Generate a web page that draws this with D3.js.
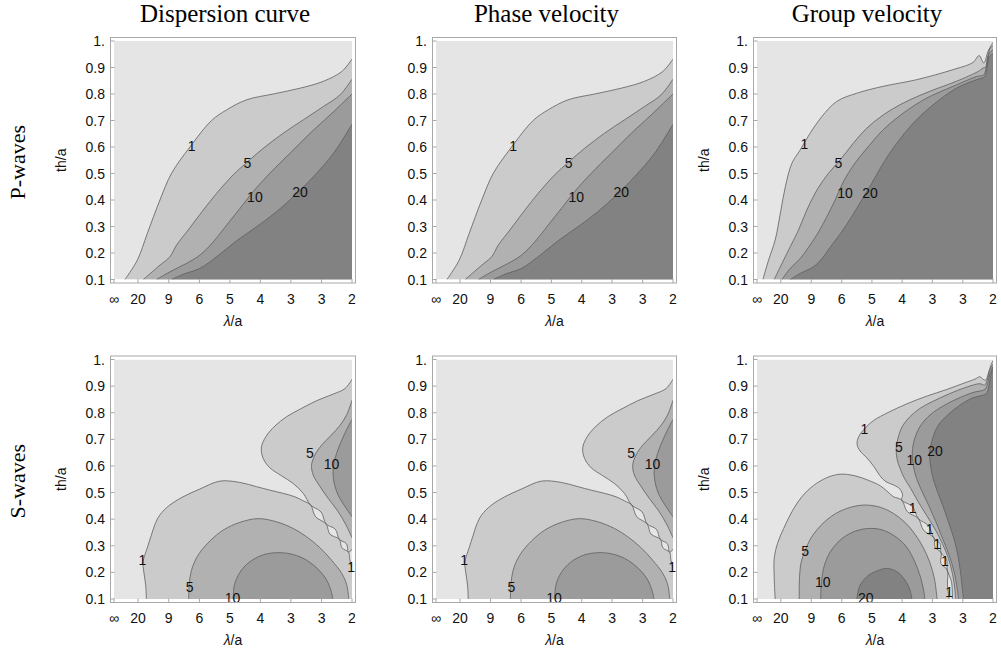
<!DOCTYPE html>
<html>
<head>
<meta charset="utf-8">
<script src="https://cdnjs.cloudflare.com/ajax/libs/d3/7.8.5/d3.min.js"></script>
<style>
  body { margin: 0; background: #fff; }
  svg { display: block; }
</style>
</head>
<body>
<svg id="chart" width="1001" height="655"></svg>
<script>
// ---- data ---------------------------------------------------------------
// x is the normalised wavenumber (0 = infinite wavelength, 1 = lambda/a 2),
// y is th/a. Every contour is a list of [x, th] points.

var columnTitles = ["Dispersion curve", "Phase velocity", "Group velocity"];
var rowTitles = ["P-waves", "S-waves"];

var xTickValues = [0, 0.101, 0.230, 0.359, 0.487, 0.615, 0.743, 0.872, 1.0];
var xTickLabels = ["\u221e", "20", "9", "6", "5", "4", "3", "3", "2"];
var yTickValues = [0.1, 0.2, 0.3, 0.4, 0.5, 0.6, 0.7, 0.8, 0.9, 1.0];
var yTickLabels = ["0.1", "0.2", "0.3", "0.4", "0.5", "0.6", "0.7", "0.8", "0.9", "1."];

var contourLevels = [1, 5, 10, 20];

// P-waves, dispersion curve (the phase velocity panel shows the same field)
var pDispersion1 = [[0.046,0.100],[0.098,0.173],[0.140,0.274],[0.193,0.400],[0.242,0.501],[0.319,0.600],[0.410,0.700],[0.473,0.740],[0.557,0.778],[0.669,0.800],[0.782,0.822],[0.880,0.848],[0.957,0.885],[1.0,0.932]];
var pDispersion5 = [[0.123,0.100],[0.193,0.154],[0.235,0.186],[0.263,0.230],[0.312,0.287],[0.375,0.362],[0.431,0.425],[0.501,0.495],[0.557,0.541],[0.627,0.595],[0.711,0.652],[0.796,0.703],[0.880,0.753],[0.950,0.797],[1.0,0.856]];
var pDispersion10 = [[0.179,0.100],[0.235,0.129],[0.305,0.161],[0.361,0.192],[0.417,0.242],[0.473,0.305],[0.529,0.368],[0.585,0.432],[0.655,0.501],[0.739,0.576],[0.824,0.652],[0.908,0.721],[1.0,0.800]];
var pDispersion20 = [[0.242,0.100],[0.291,0.120],[0.361,0.142],[0.431,0.186],[0.515,0.246],[0.599,0.299],[0.683,0.356],[0.754,0.413],[0.838,0.488],[0.922,0.576],[1.0,0.686]];
var pDispersionLabels = [[0.326,0.604,"1"],[0.560,0.539,"5"],[0.592,0.413,"10"],[0.782,0.432,"20"]];

// P-waves, group velocity
var pGroup1 = [[0.025,0.100],[0.049,0.173],[0.077,0.249],[0.099,0.350],[0.120,0.450],[0.148,0.539],[0.183,0.589],[0.225,0.652],[0.275,0.715],[0.338,0.772],[0.423,0.803],[0.535,0.829],[0.676,0.854],[0.831,0.892],[0.915,0.919],[0.941,0.945],[0.961,0.917],[0.979,0.961],[1.0,0.995]];
var pGroup5 = [[0.073,0.100],[0.106,0.161],[0.141,0.224],[0.176,0.287],[0.211,0.362],[0.254,0.438],[0.303,0.501],[0.352,0.551],[0.408,0.614],[0.465,0.671],[0.535,0.721],[0.620,0.766],[0.732,0.810],[0.845,0.848],[0.937,0.885],[0.958,0.898],[0.972,0.904],[0.986,0.970],[1.0,0.982]];
var pGroup10 = [[0.106,0.100],[0.141,0.142],[0.183,0.179],[0.225,0.230],[0.261,0.280],[0.296,0.337],[0.331,0.400],[0.366,0.469],[0.415,0.539],[0.472,0.602],[0.535,0.665],[0.620,0.728],[0.718,0.784],[0.831,0.829],[0.930,0.866],[0.961,0.873],[0.980,0.948],[1.0,0.967]];
var pGroup20 = [[0.141,0.100],[0.183,0.123],[0.239,0.148],[0.275,0.179],[0.317,0.230],[0.359,0.280],[0.401,0.337],[0.444,0.400],[0.486,0.463],[0.535,0.539],[0.592,0.614],[0.662,0.690],[0.746,0.759],[0.845,0.822],[0.930,0.854],[0.965,0.866],[0.983,0.940],[1.0,0.952]];
var pGroupLabels = [[0.201,0.612,"1"],[0.345,0.539,"5"],[0.373,0.425,"10"],[0.479,0.425,"20"]];

// S-waves, dispersion curve (phase velocity panel is the same field)
var sDispersionLower1 = [[0.136,0.100],[0.133,0.153],[0.125,0.203],[0.122,0.240],[0.139,0.290],[0.157,0.340],[0.171,0.378],[0.192,0.415],[0.234,0.453],[0.290,0.484],[0.360,0.513],[0.445,0.543],[0.529,0.538],[0.599,0.522],[0.655,0.509],[0.711,0.497],[0.760,0.484],[0.795,0.469],[0.826,0.453],[0.847,0.409],[0.891,0.382],[0.907,0.344],[0.947,0.324],[0.957,0.293],[0.986,0.275],[0.990,0.253],[0.994,0.234],[1.0,0.218]];
var sDispersionUpper1 = [[1.0,0.926],[0.971,0.891],[0.921,0.870],[0.851,0.845],[0.781,0.813],[0.725,0.785],[0.676,0.750],[0.638,0.710],[0.619,0.668],[0.627,0.628],[0.655,0.593],[0.704,0.563],[0.753,0.534],[0.795,0.497],[0.826,0.453],[0.870,0.427],[0.891,0.382],[0.930,0.362],[0.947,0.324],[0.976,0.308],[0.986,0.275],[1.0,0.288]];
var sDispersionLower5 = [[0.314,0.100],[0.317,0.165],[0.330,0.221],[0.358,0.271],[0.403,0.318],[0.459,0.359],[0.529,0.388],[0.606,0.402],[0.683,0.390],[0.753,0.365],[0.809,0.334],[0.865,0.293],[0.914,0.246],[0.957,0.196],[0.978,0.153],[0.986,0.100]];
var sDispersionUpper5 = [[1.0,0.847],[0.978,0.793],[0.950,0.753],[0.910,0.713],[0.872,0.678],[0.844,0.641],[0.830,0.603],[0.837,0.566],[0.863,0.526],[0.900,0.478],[0.942,0.428],[0.975,0.378],[1.0,0.330]];
var sDispersionLower10 = [[0.501,0.100],[0.506,0.153],[0.529,0.200],[0.568,0.238],[0.624,0.265],[0.683,0.274],[0.739,0.270],[0.795,0.253],[0.849,0.219],[0.891,0.175],[0.913,0.128],[0.919,0.100]];
var sDispersionUpper10 = [[1.0,0.775],[0.980,0.741],[0.957,0.697],[0.935,0.647],[0.921,0.591],[0.924,0.541],[0.942,0.490],[0.971,0.447],[1.0,0.409]];
var sDispersionLabels = [[0.119,0.246,"1"],[0.318,0.144,"5"],[0.498,0.105,"10"],[0.996,0.221,"1"],[0.823,0.647,"5"],[0.914,0.606,"10"]];

// S-waves, group velocity
var sGroupLeft1 = [[0.077,0.100],[0.073,0.178],[0.073,0.253],[0.087,0.309],[0.113,0.365],[0.148,0.428],[0.190,0.484],[0.239,0.526],[0.296,0.556],[0.352,0.569],[0.415,0.563],[0.472,0.546],[0.521,0.526],[0.549,0.507],[0.577,0.485],[0.613,0.472],[0.637,0.428],[0.683,0.403],[0.706,0.358],[0.749,0.330],[0.755,0.294],[0.780,0.274],[0.779,0.234],[0.806,0.209],[0.807,0.153],[0.814,0.100]];
var sGroupRight1 = [[1.0,0.996],[0.990,0.976],[0.980,0.947],[0.969,0.922],[0.958,0.926],[0.944,0.935],[0.923,0.926],[0.873,0.910],[0.803,0.887],[0.718,0.862],[0.634,0.833],[0.556,0.801],[0.493,0.770],[0.454,0.738],[0.431,0.710],[0.424,0.682],[0.437,0.656],[0.465,0.631],[0.496,0.597],[0.521,0.563],[0.546,0.541],[0.580,0.528],[0.606,0.513],[0.617,0.490],[0.613,0.472],[0.659,0.447],[0.683,0.403],[0.727,0.375],[0.749,0.330],[0.775,0.309],[0.780,0.274],[0.803,0.249],[0.806,0.209],[0.824,0.165],[0.828,0.100]];
var sGroupLeft5 = [[0.179,0.100],[0.180,0.178],[0.187,0.238],[0.203,0.280],[0.228,0.328],[0.268,0.374],[0.317,0.412],[0.380,0.440],[0.451,0.453],[0.521,0.445],[0.577,0.422],[0.627,0.388],[0.669,0.344],[0.704,0.294],[0.732,0.238],[0.752,0.175],[0.763,0.100]];
var sGroupRight5 = [[1.0,0.983],[0.986,0.960],[0.975,0.922],[0.965,0.904],[0.944,0.909],[0.887,0.896],[0.817,0.872],[0.746,0.843],[0.690,0.816],[0.648,0.785],[0.615,0.747],[0.597,0.703],[0.590,0.666],[0.593,0.628],[0.606,0.591],[0.625,0.553],[0.651,0.516],[0.683,0.465],[0.718,0.415],[0.754,0.363],[0.785,0.309],[0.811,0.253],[0.828,0.196],[0.838,0.140],[0.842,0.100]];
var sGroupLeft10 = [[0.270,0.100],[0.272,0.153],[0.282,0.215],[0.303,0.265],[0.338,0.309],[0.387,0.343],[0.451,0.363],[0.521,0.362],[0.577,0.340],[0.627,0.303],[0.662,0.253],[0.690,0.190],[0.707,0.128],[0.711,0.100]];
var sGroupRight10 = [[1.0,0.975],[0.987,0.947],[0.977,0.910],[0.966,0.888],[0.915,0.876],[0.845,0.851],[0.775,0.818],[0.725,0.785],[0.690,0.747],[0.668,0.703],[0.658,0.653],[0.662,0.603],[0.676,0.553],[0.700,0.503],[0.730,0.447],[0.758,0.390],[0.786,0.328],[0.814,0.265],[0.835,0.203],[0.848,0.140],[0.854,0.100]];
var sGroupLeft20 = [[0.423,0.100],[0.434,0.146],[0.465,0.184],[0.507,0.205],[0.549,0.215],[0.592,0.203],[0.627,0.171],[0.648,0.134],[0.656,0.100]];
var sGroupRight20 = [[1.0,0.969],[0.990,0.939],[0.982,0.897],[0.972,0.872],[0.915,0.856],[0.859,0.828],[0.810,0.793],[0.768,0.753],[0.744,0.703],[0.732,0.653],[0.735,0.603],[0.746,0.553],[0.765,0.503],[0.789,0.447],[0.811,0.390],[0.834,0.328],[0.851,0.265],[0.862,0.203],[0.870,0.140],[0.875,0.100]];
var sGroupLabels = [[0.455,0.737,"1"],[0.601,0.672,"5"],[0.666,0.622,"10"],[0.754,0.656,"20"],[0.204,0.281,"5"],[0.279,0.165,"10"],[0.461,0.103,"20"],[0.659,0.443,"1"],[0.732,0.363,"1"],[0.763,0.305,"1"],[0.796,0.244,"1"],[0.814,0.128,"1"]];

// ---- layout --------------------------------------------------------------

var LAYOUT = {
  cols: [{x0: 114, x1: 352}, {x0: 436, x1: 673}, {x0: 757, x1: 993}],
  rows: [{y0: 41, y1: 279.5}, {y0: 359.5, y1: 599}],
  framePad: 3.5,
  tickLen: 4,
  titleY: 22,
  titleShift: -8,
  rowLabelX: 17
};

var FONT_SANS = "Liberation Sans, Arial, sans-serif";
var FONT_SERIF = "Liberation Serif, Times New Roman, serif";

// background first, then one shade per contour level
var shadeColors = ["#e5e5e5", "#cbcbcb", "#b1b1b1", "#9b9b9b", "#828282"];

var pDispersionContours = [
  {level: 1, pts: pDispersion1}, {level: 5, pts: pDispersion5},
  {level: 10, pts: pDispersion10}, {level: 20, pts: pDispersion20}
];
var pGroupContours = [
  {level: 1, pts: pGroup1}, {level: 5, pts: pGroup5},
  {level: 10, pts: pGroup10}, {level: 20, pts: pGroup20}
];
var sDispersionContours = [
  {level: 1, pts: sDispersionLower1}, {level: 1, pts: sDispersionUpper1},
  {level: 5, pts: sDispersionLower5}, {level: 5, pts: sDispersionUpper5},
  {level: 10, pts: sDispersionLower10}, {level: 10, pts: sDispersionUpper10}
];
var sGroupContours = [
  {level: 1, pts: sGroupLeft1}, {level: 1, pts: sGroupRight1},
  {level: 5, pts: sGroupLeft5}, {level: 5, pts: sGroupRight5},
  {level: 10, pts: sGroupLeft10}, {level: 10, pts: sGroupRight10},
  {level: 20, pts: sGroupLeft20}, {level: 20, pts: sGroupRight20}
];

var panels = [
  {row: 0, col: 0, contours: pDispersionContours, labels: pDispersionLabels},
  {row: 0, col: 1, contours: pDispersionContours, labels: pDispersionLabels},
  {row: 0, col: 2, contours: pGroupContours, labels: pGroupLabels},
  {row: 1, col: 0, contours: sDispersionContours, labels: sDispersionLabels},
  {row: 1, col: 1, contours: sDispersionContours, labels: sDispersionLabels},
  {row: 1, col: 2, contours: sGroupContours, labels: sGroupLabels}
];

var svg = d3.select("#chart");
var defs = svg.append("defs");

// a contour that runs from the bottom edge to the right edge is closed
// through the bottom-right corner
function closingCorners(pts) {
  var a = pts[0], b = pts[pts.length - 1];
  if ((a[0] === 1 && b[1] === 0.1) || (b[0] === 1 && a[1] === 0.1)) return [[1, 0.1]];
  return [];
}

function drawPanel(panel) {
  var c = LAYOUT.cols[panel.col];
  var r = LAYOUT.rows[panel.row];
  var pad = LAYOUT.framePad;

  var x = d3.scaleLinear().domain([0, 1]).range([c.x0, c.x1]);
  var y = d3.scaleLinear().domain([0.1, 1]).range([r.y1, r.y0]);

  var clipId = "clip-" + panel.row + "-" + panel.col;
  defs.append("clipPath").attr("id", clipId)
    .append("rect")
    .attr("x", c.x0).attr("y", r.y0)
    .attr("width", c.x1 - c.x0).attr("height", r.y1 - r.y0);

  var g = svg.append("g").attr("class", "panel");
  var plot = g.append("g").attr("clip-path", "url(#" + clipId + ")");

  plot.append("rect")
    .attr("x", c.x0).attr("y", r.y0)
    .attr("width", c.x1 - c.x0).attr("height", r.y1 - r.y0)
    .attr("fill", shadeColors[0]);

  var line = d3.line()
    .x(function(d) { return x(d[0]); })
    .y(function(d) { return y(d[1]); })
    .curve(d3.curveCatmullRom.alpha(0.5));

  // filled bands, lowest level first
  contourLevels.forEach(function(level, i) {
    panel.contours.filter(function(k) { return k.level === level; })
      .forEach(function(k) {
        var corners = closingCorners(k.pts).map(function(p) {
          return "L" + x(p[0]) + "," + y(p[1]);
        }).join("");
        plot.append("path")
          .attr("d", line(k.pts) + corners + "Z")
          .attr("fill", shadeColors[i + 1]);
      });
  });

  // contour lines
  plot.selectAll(".contour")
    .data(panel.contours)
    .enter()
    .append("path")
    .attr("class", "contour")
    .attr("d", function(k) { return line(k.pts); })
    .attr("fill", "none")
    .attr("stroke", "#5e5e5e")
    .attr("stroke-width", 0.8);

  // contour labels
  g.selectAll(".clabel")
    .data(panel.labels)
    .enter()
    .append("text")
    .attr("class", "clabel")
    .attr("x", function(d) { return x(d[0]); })
    .attr("y", function(d) { return y(d[1]); })
    .attr("text-anchor", "middle")
    .attr("dominant-baseline", "central")
    .attr("font-family", FONT_SANS)
    .attr("font-size", "14px")
    .attr("fill", "#111")
    .text(function(d) { return d[2]; });

  // frame
  var fx0 = c.x0 - pad, fx1 = c.x1 + pad, fy0 = r.y0 - pad, fy1 = r.y1 + pad;
  g.append("rect")
    .attr("x", fx0).attr("y", fy0)
    .attr("width", fx1 - fx0).attr("height", fy1 - fy0)
    .attr("fill", "none")
    .attr("stroke", "#a8a8a8")
    .attr("stroke-width", 1);

  // y ticks + labels
  g.selectAll(".ytick")
    .data(yTickValues)
    .enter()
    .append("line")
    .attr("x1", fx0).attr("x2", fx0 + LAYOUT.tickLen)
    .attr("y1", function(d) { return y(d); })
    .attr("y2", function(d) { return y(d); })
    .attr("stroke", "#a8a8a8");

  g.selectAll(".ylab")
    .data(yTickValues)
    .enter()
    .append("text")
    .attr("x", fx0 - 5.5)
    .attr("y", function(d) { return y(d); })
    .attr("text-anchor", "end")
    .attr("dominant-baseline", "central")
    .attr("font-family", FONT_SANS)
    .attr("font-size", "14px")
    .attr("fill", "#111")
    .text(function(d, i) { return yTickLabels[i]; });

  // x ticks + labels
  g.selectAll(".xtick")
    .data(xTickValues)
    .enter()
    .append("line")
    .attr("x1", function(d) { return x(d); })
    .attr("x2", function(d) { return x(d); })
    .attr("y1", fy1).attr("y2", fy1 - LAYOUT.tickLen)
    .attr("stroke", "#a8a8a8");

  g.selectAll(".xlab")
    .data(xTickValues)
    .enter()
    .append("text")
    .attr("x", function(d) { return x(d); })
    .attr("y", r.y1 + 24)
    .attr("text-anchor", "middle")
    .attr("font-family", FONT_SANS)
    .attr("font-size", "14px")
    .attr("fill", "#111")
    .text(function(d, i) { return xTickLabels[i]; });

  // axis titles
  var xTitle = g.append("text")
    .attr("x", (c.x0 + c.x1) / 2)
    .attr("y", r.y1 + 46)
    .attr("text-anchor", "middle")
    .attr("font-family", FONT_SANS)
    .attr("font-size", "14px")
    .attr("fill", "#111");
  xTitle.append("tspan").attr("font-style", "italic").text("\u03bb");
  xTitle.append("tspan").text("/a");

  if (panel.col !== 1) {
    var ty = (r.y0 + r.y1) / 2;
    g.append("text")
      .attr("transform", "translate(" + (c.x0 - 53) + "," + ty + ") rotate(-90)")
      .attr("text-anchor", "middle")
      .attr("dominant-baseline", "central")
      .attr("font-family", FONT_SANS)
      .attr("font-size", "14px")
      .attr("fill", "#111")
      .text("th/a");
  }
}

panels.forEach(drawPanel);

// column titles
svg.selectAll(".col-title")
  .data(columnTitles)
  .enter()
  .append("text")
  .attr("class", "col-title")
  .attr("x", function(d, i) {
    var c = LAYOUT.cols[i];
    return (c.x0 + c.x1) / 2 + LAYOUT.titleShift;
  })
  .attr("y", LAYOUT.titleY)
  .attr("text-anchor", "middle")
  .attr("font-family", FONT_SERIF)
  .attr("font-size", "25px")
  .attr("fill", "#000")
  .text(function(d) { return d; });

// row titles
svg.selectAll(".row-title")
  .data(rowTitles)
  .enter()
  .append("text")
  .attr("class", "row-title")
  .attr("transform", function(d, i) {
    var r = LAYOUT.rows[i];
    return "translate(" + LAYOUT.rowLabelX + "," + ((r.y0 + r.y1) / 2 + 2) + ") rotate(-90)";
  })
  .attr("text-anchor", "middle")
  .attr("dominant-baseline", "central")
  .attr("font-family", FONT_SERIF)
  .attr("font-size", "22px")
  .attr("fill", "#000")
  .text(function(d) { return d; });
</script>
</body>
</html>
